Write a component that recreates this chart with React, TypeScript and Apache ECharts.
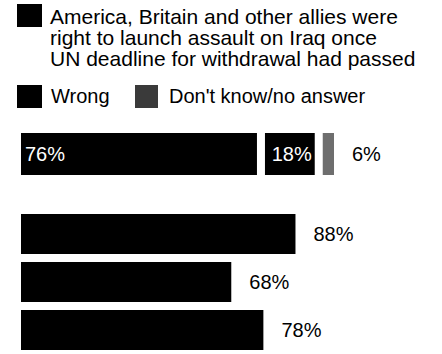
import React, { useEffect, useRef } from "react";
import * as echarts from "echarts";

const topCategories = ["Assault once deadline passed"];
const rightTop = [76];
const wrongTop = [18];
const dontKnowTop = [6];

const lowerCategories = ["Question 2", "Question 3", "Question 4"];
const lowerValues = [88, 68, 78];

const legendRight = "America, Britain and other allies were\nright to launch assault on Iraq once\nUN deadline for withdrawal had passed";
const legendWrong = "Wrong";
const legendDontKnow = "Don't know/no answer";

const FONT = "'Liberation Sans', Arial, Helvetica, sans-serif";

export default function App() {
  const ref = useRef<HTMLDivElement>(null);
  useEffect(() => {
    if (!ref.current) return;
    const chart = echarts.init(ref.current, undefined, { renderer: "svg" });
    const pct = (p: any) => `${p.value}%`;
    const border = { borderColor: "#ffffff", borderWidth: 4 };
    chart.setOption({
      animation: false,
      backgroundColor: "#ffffff",
      textStyle: { fontFamily: FONT },
      grid: [
        { left: 17, width: 321, top: 129, height: 50 },
        { left: 17, width: 321, top: 210, height: 145.5 },
      ],
      xAxis: [
        { type: "value", gridIndex: 0, min: 0, max: 100, show: false },
        { type: "value", gridIndex: 1, min: 0, max: 100, show: false },
      ],
      yAxis: [
        { type: "category", gridIndex: 0, data: topCategories, show: false, inverse: true },
        { type: "category", gridIndex: 1, data: lowerCategories, show: false, inverse: true },
      ],
      series: [
        {
          type: "bar", name: "Right", xAxisIndex: 0, yAxisIndex: 0, stack: "top",
          data: rightTop, barWidth: 50,
          itemStyle: { color: "#000000", ...border },
          label: { show: true, position: "insideLeft", distance: 8, formatter: pct, color: "#ffffff", fontSize: 20, fontFamily: FONT },
        },
        {
          type: "bar", name: "Wrong", xAxisIndex: 0, yAxisIndex: 0, stack: "top",
          data: wrongTop, barWidth: 50,
          itemStyle: { color: "#000000", ...border },
          label: { show: true, position: "insideRight", distance: 7, formatter: pct, color: "#ffffff", fontSize: 20, fontFamily: FONT },
        },
        {
          type: "bar", name: "Don't know", xAxisIndex: 0, yAxisIndex: 0, stack: "top",
          data: dontKnowTop, barWidth: 50,
          itemStyle: { color: "#6e6e6e", ...border },
          label: { show: true, position: "right", distance: 14, formatter: pct, color: "#000000", fontSize: 20, fontFamily: FONT },
        },
        {
          type: "bar", name: "Right (other)", xAxisIndex: 1, yAxisIndex: 1,
          data: lowerValues, barCategoryGap: 0,
          itemStyle: { color: "#000000", ...border },
          label: { show: true, position: "right", distance: 14, formatter: pct, color: "#000000", fontSize: 20, fontFamily: FONT },
        },
      ],
      graphic: [
        { type: "rect", left: 17, top: 4, shape: { width: 25, height: 23 }, style: { fill: "#000000" } },
        {
          type: "text", left: 50, top: 6,
          style: { text: legendRight, fill: "#000000", font: `21px ${FONT}`, lineHeight: 21 },
        },
        { type: "rect", left: 17, top: 85, shape: { width: 25, height: 23 }, style: { fill: "#000000" } },
        { type: "text", left: 51, top: 86, style: { text: legendWrong, fill: "#000000", font: `20px ${FONT}` } },
        { type: "rect", left: 135, top: 85, shape: { width: 23, height: 23 }, style: { fill: "#3a3a3a" } },
        { type: "text", left: 169, top: 86, style: { text: legendDontKnow, fill: "#000000", font: `20px ${FONT}` } },
      ],
    });
    return () => chart.dispose();
  }, []);
  return <div ref={ref} style={{ position: "fixed", left: 0, top: 0, width: 442, height: 354 }} />;
}
